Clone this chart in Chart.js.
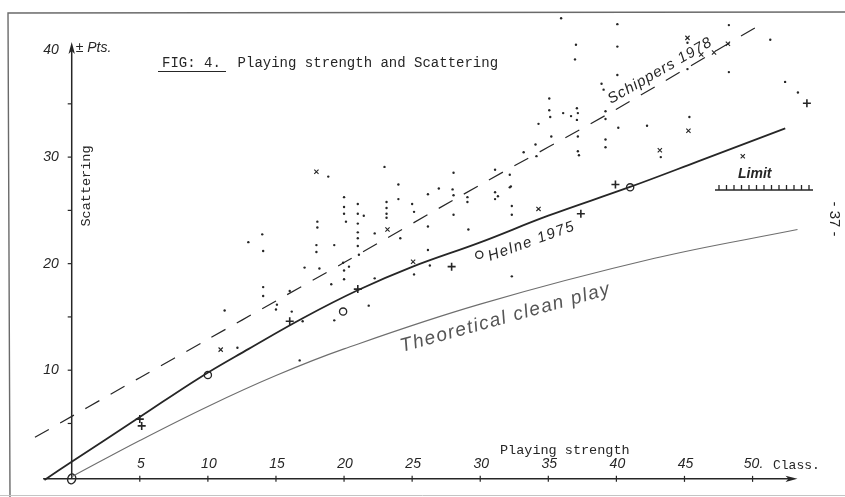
<!DOCTYPE html>
<html>
<head>
<meta charset="utf-8">
<script src="https://cdn.jsdelivr.net/npm/chart.js@4.4.1/dist/chart.umd.min.js"></script>
<style>
  html, body { margin: 0; padding: 0; background: #fff; }
  #wrap { width: 845px; height: 497px; position: relative; }
</style>
</head>
<body>
<div id="wrap"><canvas id="chart"></canvas></div>
<script>
// Values (x = playing strength class, y = scattering pts)

// "Helne 1975" curve (solid)
const helneX = [-2, 0, 5, 9.4, 13, 17, 21, 25, 30, 35, 41, 46, 52.4];
const helneY = [-0.3, 1.4, 5.6, 9.3, 12.0, 14.9, 17.5, 19.7, 22.0, 24.5, 27.2, 29.6, 32.7];

// "Schippers 1978" curve (dashed)
const schipX = [-2.7, 5, 10, 15, 20, 30, 40, 50.8];
const schipY = [3.7, 9.3, 12.9, 16.5, 20.1, 27.4, 34.5, 42.6];

// "Theoretical clean play" curve (thin)
const cleanX = [0, 5, 10, 15, 20, 30, 42.8, 53.3];
const cleanY = [0, 3.4, 6.6, 9.5, 12.0, 16.2, 20.5, 23.2];

// single games (small dots)
const dots = [
  [18.84,28.17],[20.0,26.24],[20.0,25.32],[20.0,24.68],[20.14,23.94],[18.04,23.94],[18.04,23.39],
  [13.99,22.75],[12.97,22.02],[17.97,21.74],[19.28,21.74],[17.97,21.10],[14.06,21.19],[19.93,20.09],
  [20.36,19.72],[20.0,19.36],[17.10,19.63],[18.19,19.54],[20.0,18.53],[19.06,18.07],[14.06,17.80],
  [14.06,16.97],[16.01,17.43],[15.07,16.15],[15.0,15.69],[16.16,15.50],[11.23,15.60],[12.17,12.11],
  [19.28,14.68],[16.74,10.92],[16.96,14.59],
  [33.19,30.46],[22.97,29.08],[28.04,28.53],[31.09,28.81],[32.17,28.35],[23.99,27.43],[26.96,27.06],
  [27.97,26.97],[28.04,26.42],[29.06,26.24],[29.06,25.78],[31.09,26.70],[31.09,26.06],[31.30,26.33],
  [32.17,27.16],[26.16,26.51],[23.99,26.06],[25.0,25.60],[25.14,24.86],[32.32,25.41],[32.32,24.59],
  [28.04,24.59],[21.01,25.60],[21.01,24.68],[21.45,24.50],[21.01,23.76],[23.12,25.78],[23.12,25.23],
  [23.12,24.68],[23.12,24.31],[21.01,22.94],[21.01,22.39],[21.01,21.65],[21.09,20.83],[22.25,22.84],
  [24.13,22.39],[26.16,23.49],[29.13,23.21],[26.16,21.28],[25.14,18.99],[26.30,19.82],[22.25,18.62],
  [32.32,18.81],[21.81,16.06],[32.25,27.25],
  [35.94,43.03],[40.07,42.48],[37.03,40.55],[40.07,40.37],[36.96,39.17],[40.07,37.71],[38.91,36.88],
  [39.06,36.33],[35.07,35.50],[35.07,34.40],[35.14,33.76],[36.09,34.13],[36.67,33.85],[37.10,34.59],
  [37.17,34.13],[37.10,33.49],[39.20,34.31],[39.20,33.58],[34.28,33.12],[40.14,32.75],[42.25,32.94],
  [45.36,33.76],[35.22,31.93],[37.17,31.93],[34.06,31.19],[34.13,30.09],[39.20,31.65],[39.20,30.92],
  [37.17,30.55],[37.25,30.18],[43.26,30.00],[45.22,40.73],[45.22,38.26],[48.26,42.39],[51.30,41.01],
  [48.26,37.98],[52.39,37.06],[53.33,36.06]
];

// "+" marks
const plusMarks = [[5.0,5.41],[5.14,4.77],[16.01,14.59],[21.01,17.61],[27.90,19.72],[37.39,24.68],[39.93,27.43],[53.99,35.05]];
// "x" marks
const xMarks = [[10.94,11.93],[17.97,28.62],[23.19,23.21],[25.07,20.18],[34.28,25.14],[43.19,30.64],[45.29,32.48],
  [45.22,41.19],[46.23,39.63],[47.17,39.82],[48.19,40.64],[49.28,30.09]];
// "o" marks
const circleMarks = [[10.0,9.54],[19.93,15.50],[29.93,20.83],[41.01,27.16]];

// axis ticks
const xTicks = [5, 10, 15, 20, 25, 30, 35, 40, 45, 50];
const xTickLabels = ['5', '10', '15', '20', '25', '30', '35', '40', '45', '50.'];
const yTicks = [5, 10, 15, 20, 25, 30, 35];
const yLabelValues = [10, 20, 30, 40];
const yLabels = ['10', '20', '30', '40'];

const pairs = (xs, ys) => xs.map((x, i) => ({ x: x, y: ys[i] }));
const pts = arr => arr.map(p => ({ x: p[0], y: p[1] }));

const INK = '#262626';
const HAND = 'italic 14px "Liberation Sans", sans-serif';
const TYPE = '"Liberation Mono", "DejaVu Sans Mono", monospace';

function arrowHead(ctx, x, y, dx, dy) {
  const len = 12, w = 3.2;
  const nx = -dy, ny = dx;
  ctx.beginPath();
  ctx.moveTo(x, y);
  ctx.lineTo(x - dx * len + nx * w, y - dy * len + ny * w);
  ctx.lineTo(x - dx * len * 0.75, y - dy * len * 0.75);
  ctx.lineTo(x - dx * len - nx * w, y - dy * len - ny * w);
  ctx.closePath();
  ctx.fill();
}

function rotatedText(ctx, text, x, y, angle, font, color, spacing) {
  ctx.save();
  ctx.translate(x, y);
  ctx.rotate(angle * Math.PI / 180);
  ctx.font = font;
  ctx.fillStyle = color;
  ctx.textAlign = 'left';
  ctx.textBaseline = 'alphabetic';
  if (spacing) ctx.letterSpacing = spacing;
  ctx.fillText(text, 0, 0);
  ctx.restore();
}

const paperPlugin = {
  id: 'paper',
  beforeDraw(chart) {
    const ctx = chart.ctx;
    ctx.save();
    ctx.fillStyle = '#fff';
    ctx.fillRect(0, 0, chart.width, chart.height);
    // page frame
    ctx.strokeStyle = '#6a6a6a';
    ctx.lineWidth = 1.4;
    ctx.beginPath();
    ctx.moveTo(10, 497);
    ctx.lineTo(8, 13);
    ctx.lineTo(845, 12);
    ctx.stroke();
    ctx.strokeStyle = '#c4c4c4';
    ctx.lineWidth = 1;
    ctx.beginPath();
    ctx.moveTo(0, 495.5);
    ctx.lineTo(845, 495.5);
    ctx.stroke();
    ctx.restore();
  },
  beforeDatasetsDraw(chart) {
    const ctx = chart.ctx;
    const xs = chart.scales.x, ys = chart.scales.y;
    const x0 = xs.getPixelForValue(0);
    const yAxis = ys.getPixelForValue(-0.2);
    ctx.save();
    ctx.strokeStyle = INK;
    ctx.fillStyle = INK;
    ctx.lineWidth = 1.5;

    // x axis
    const xStart = xs.getPixelForValue(-2.1), xEnd = xs.getPixelForValue(53.3);
    ctx.beginPath();
    ctx.moveTo(xStart, yAxis);
    ctx.lineTo(xEnd - 6, yAxis);
    ctx.stroke();
    arrowHead(ctx, xEnd, yAxis, 1, 0);

    // y axis
    const yTop = ys.getPixelForValue(40.8);
    ctx.beginPath();
    ctx.moveTo(x0, yAxis);
    ctx.lineTo(x0, yTop + 6);
    ctx.stroke();
    arrowHead(ctx, x0, yTop, 0, -1);

    // x ticks + labels (written above the axis)
    ctx.lineWidth = 1.2;
    ctx.font = HAND;
    ctx.textAlign = 'center';
    ctx.textBaseline = 'alphabetic';
    xTicks.forEach((v, i) => {
      const px = xs.getPixelForValue(v);
      ctx.beginPath();
      ctx.moveTo(px, yAxis - 3);
      ctx.lineTo(px, yAxis + 3);
      ctx.stroke();
      ctx.fillText(xTickLabels[i], px + 1, yAxis - 11);
    });

    // y ticks + labels
    yTicks.forEach(v => {
      const py = ys.getPixelForValue(v);
      ctx.beginPath();
      ctx.moveTo(x0 - 4, py);
      ctx.lineTo(x0, py);
      ctx.stroke();
    });
    ctx.textAlign = 'right';
    ctx.textBaseline = 'middle';
    yLabelValues.forEach((v, i) => {
      ctx.fillText(yLabels[i], x0 - 13, ys.getPixelForValue(v));
    });

    // origin mark
    ctx.lineWidth = 1.3;
    ctx.beginPath();
    ctx.ellipse(x0, yAxis, 4, 5, 0.3, 0, Math.PI * 2);
    ctx.stroke();
    ctx.restore();
  },
  afterDatasetsDraw(chart) {
    const ctx = chart.ctx;
    const xs = chart.scales.x, ys = chart.scales.y;
    const x0 = xs.getPixelForValue(0);
    ctx.save();
    ctx.fillStyle = INK;

    // unit label at the top of the y axis
    ctx.font = HAND;
    ctx.textAlign = 'left';
    ctx.textBaseline = 'middle';
    ctx.fillText('\u00B1 Pts.', x0 + 4, ys.getPixelForValue(40.2));

    // title
    ctx.font = '14px ' + TYPE;
    ctx.textBaseline = 'alphabetic';
    ctx.fillText('FIG: 4.  Playing strength and Scattering', 162, 67);
    ctx.lineWidth = 1.2;
    ctx.strokeStyle = INK;
    ctx.beginPath();
    ctx.moveTo(158, 71.5);
    ctx.lineTo(226, 71.5);
    ctx.stroke();

    // axis titles
    ctx.font = '13.5px ' + TYPE;
    ctx.textBaseline = 'middle';
    ctx.fillText('Playing strength', 500, 450);
    ctx.font = '13px ' + TYPE;
    ctx.fillText('Class.', 773, 466);
    ctx.save();
    ctx.translate(86, 186);
    ctx.rotate(-Math.PI / 2);
    ctx.font = '13.5px ' + TYPE;
    ctx.textAlign = 'center';
    ctx.fillText('Scattering', 0, 0);
    ctx.restore();

    // curve labels
    rotatedText(ctx, 'Schippers 1978', 611, 104, -30, 'italic 15px "Liberation Sans", sans-serif', INK, '1px');
    rotatedText(ctx, 'Helne 1975', 490, 261, -20, 'italic 15px "Liberation Sans", sans-serif', INK, '1.5px');
    rotatedText(ctx, 'Theoretical clean play', 402, 352, -15.5, 'italic 19px "Liberation Sans", sans-serif', '#555', '1.5px');

    // limit marker
    ctx.font = 'italic bold 14px "Liberation Sans", sans-serif';
    ctx.textAlign = 'left';
    ctx.textBaseline = 'alphabetic';
    ctx.fillText('Limit', 738, 178);
    ctx.lineWidth = 1.3;
    ctx.beginPath();
    ctx.moveTo(715, 190);
    ctx.lineTo(813, 190);
    for (let i = 0; i < 13; i++) {
      const tx = 719 + i * 7.5;
      ctx.moveTo(tx, 185);
      ctx.lineTo(tx, 190);
    }
    ctx.stroke();

    // page number
    ctx.save();
    ctx.translate(834, 219);
    ctx.rotate(Math.PI / 2);
    ctx.font = '15px "Liberation Sans", sans-serif';
    ctx.textAlign = 'center';
    ctx.textBaseline = 'middle';
    ctx.fillText('- 37 -', 0, 0);
    ctx.restore();
    ctx.restore();
  }
};

const ctx = document.getElementById('chart').getContext('2d');
new Chart(ctx, {
  type: 'scatter',
  data: {
    datasets: [
      {
        label: 'Theoretical clean play',
        data: pairs(cleanX, cleanY),
        showLine: true,
        borderColor: '#6e6e6e',
        borderWidth: 1.1,
        pointRadius: 0,
        tension: 0.4,
        clip: false
      },
      {
        label: 'Helne 1975',
        data: pairs(helneX, helneY),
        showLine: true,
        borderColor: INK,
        borderWidth: 1.8,
        pointRadius: 0,
        tension: 0.4,
        clip: false
      },
      {
        label: 'Schippers 1978',
        data: pairs(schipX, schipY),
        showLine: true,
        borderColor: INK,
        borderWidth: 1.2,
        borderDash: [16, 13],
        pointRadius: 0,
        tension: 0.3,
        clip: false
      },
      {
        label: 'games',
        data: pts(dots),
        pointStyle: 'circle',
        pointRadius: 1.2,
        pointBackgroundColor: INK,
        pointBorderWidth: 0,
        clip: false
      },
      {
        label: 'plus',
        data: pts(plusMarks),
        pointStyle: 'cross',
        pointRadius: 4,
        pointBorderColor: INK,
        pointBorderWidth: 1.6,
        clip: false
      },
      {
        label: 'x',
        data: pts(xMarks),
        pointStyle: 'crossRot',
        pointRadius: 3,
        pointBorderColor: INK,
        pointBorderWidth: 1.1,
        clip: false
      },
      {
        label: 'o',
        data: pts(circleMarks),
        pointStyle: 'circle',
        pointRadius: 3.6,
        pointBackgroundColor: 'rgba(0,0,0,0)',
        pointBorderColor: INK,
        pointBorderWidth: 1.3,
        clip: false
      }
    ]
  },
  options: {
    responsive: true,
    maintainAspectRatio: false,
    animation: false,
    layout: { padding: 0 },
    plugins: {
      legend: { display: false },
      tooltip: { enabled: false }
    },
    scales: {
      x: { type: 'linear', display: false, min: -67 / 13.8, max: (845 - 67) / 13.8 },
      y: { type: 'linear', display: false, min: -15 / 10.9, max: 482 / 10.9 }
    }
  },
  plugins: [paperPlugin]
});
</script>
</body>
</html>
